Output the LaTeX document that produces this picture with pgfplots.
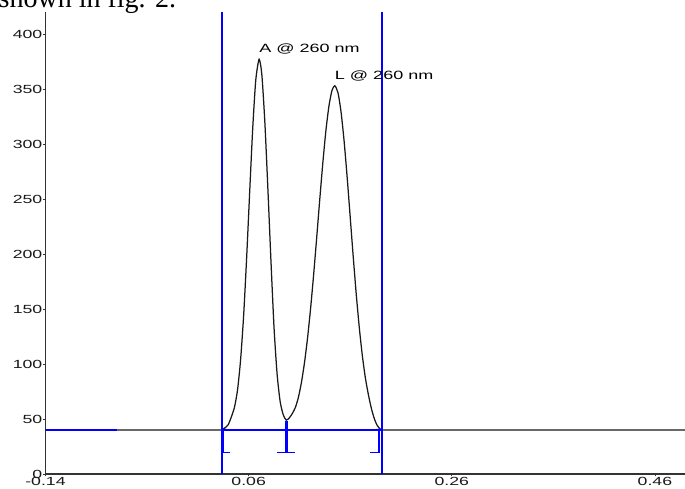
\documentclass[border=0pt]{standalone}
\usepackage{fontspec}
\setmainfont{Liberation Sans}[FakeStretch=1.5]
\newfontfamily\docserif{Liberation Serif}
\usepackage{pgfplots}
\pgfplotsset{compat=1.18}
\definecolor{intblue}{HTML}{0000FF}
\definecolor{axisgray}{HTML}{333333}

\begin{document}
\begin{tikzpicture}
\begin{axis}[
  width=639.5pt, height=462pt,
  scale only axis,
  xmin=-0.14, xmax=0.4896,
  ymin=0, ymax=420,
  axis x line=bottom, axis y line=left,
  axis line style={-, draw=axisgray, line width=1.3pt},
  tick style={draw=axisgray, line width=0.8pt},
  tick align=outside,
  major tick length=2.5pt,
  xtick={-0.14,0.06,0.26,0.46},
  xticklabels={-0.14,0.06,0.26,0.46},
  ytick={0,50,...,400},
  yticklabels={0,50,100,150,200,250,300,350,400},
  ticklabel style={font=\fontsize{11.8}{13}\selectfont, text=black!90},
  xticklabel style={inner sep=1pt},
  yticklabel style={inner sep=0.5pt},
  clip=false,
]
% chromatogram trace
\addplot[black!90, line width=1.25pt, smooth, tension=0.4] coordinates {
  (-0.14,40) (0.0337,40) (0.034,40.6) (0.037,42.2) (0.040,45) (0.043,52)
  (0.046,60.5) (0.049,76) (0.052,103) (0.055,143) (0.058,196) (0.061,256)
  (0.064,314) (0.067,358) (0.0703,377) (0.073,363) (0.076,319) (0.079,258)
  (0.082,193) (0.085,133) (0.088,91) (0.091,66) (0.094,54) (0.097,49)
  (0.100,51) (0.103,55) (0.106,60.5) (0.109,69.7) (0.112,83.4) (0.115,101.3)
  (0.118,123.7) (0.121,150.6) (0.124,181.4) (0.127,214.9) (0.130,249.4)
  (0.133,282.4) (0.136,311.6) (0.139,334.2) (0.142,348.5) (0.1448,353)
  (0.148,346.4) (0.151,328.9) (0.154,302.5) (0.157,269.6) (0.160,233.4)
  (0.163,197.1) (0.166,162.7) (0.169,132.5) (0.172,107.1) (0.175,86.9)
  (0.178,71.6) (0.181,59) (0.184,49.5) (0.187,43.5) (0.190,40.6) (0.1913,40)
  (0.4896,40)
};
% integration baseline and window
\addplot[intblue, line width=1.3pt] coordinates {(-0.14,40) (-0.070,40)};
\addplot[intblue, line width=1.3pt] coordinates {(0.0337,40) (0.1913,40)};
\addplot[intblue, line width=1.3pt] coordinates {(0.0337,0) (0.0337,420)};
\addplot[intblue, line width=1.3pt] coordinates {(0.1913,0) (0.1913,420)};
% peak start / valley / end markers
\addplot[intblue, line width=2.2pt] coordinates {(0.0346,40) (0.0346,19.5)};
\addplot[intblue, line width=1.4pt] coordinates {(0.0340,19.5) (0.0420,19.5)};
\addplot[intblue, line width=2.8pt] coordinates {(0.0971,48) (0.0971,19.5)};
\addplot[intblue, line width=1.4pt] coordinates {(0.0883,19.5) (0.1060,19.5)};
\addplot[intblue, line width=1.2pt] coordinates {(0.1884,40) (0.1884,19.5)};
\addplot[intblue, line width=1.4pt] coordinates {(0.1790,19.5) (0.1890,19.5)};
% peak labels
\node[anchor=west, inner sep=0pt, font=\fontsize{12}{14}\selectfont]
  at (axis cs:0.0703,386) {A @ 260 nm};
\node[anchor=west, inner sep=0pt, font=\fontsize{12}{14}\selectfont]
  at (axis cs:0.1448,362) {L @ 260 nm};
\end{axis}
% cut-off line of the surrounding document text
\node[anchor=base west, inner sep=0pt, font=\docserif\fontsize{28}{32}\selectfont]
  at (-47pt,466.5pt) {shown in fig. 2.};
\pgfresetboundingbox
\useasboundingbox (-45.5pt,-15pt) rectangle (639.5pt,474pt);
\end{tikzpicture}
\end{document}
